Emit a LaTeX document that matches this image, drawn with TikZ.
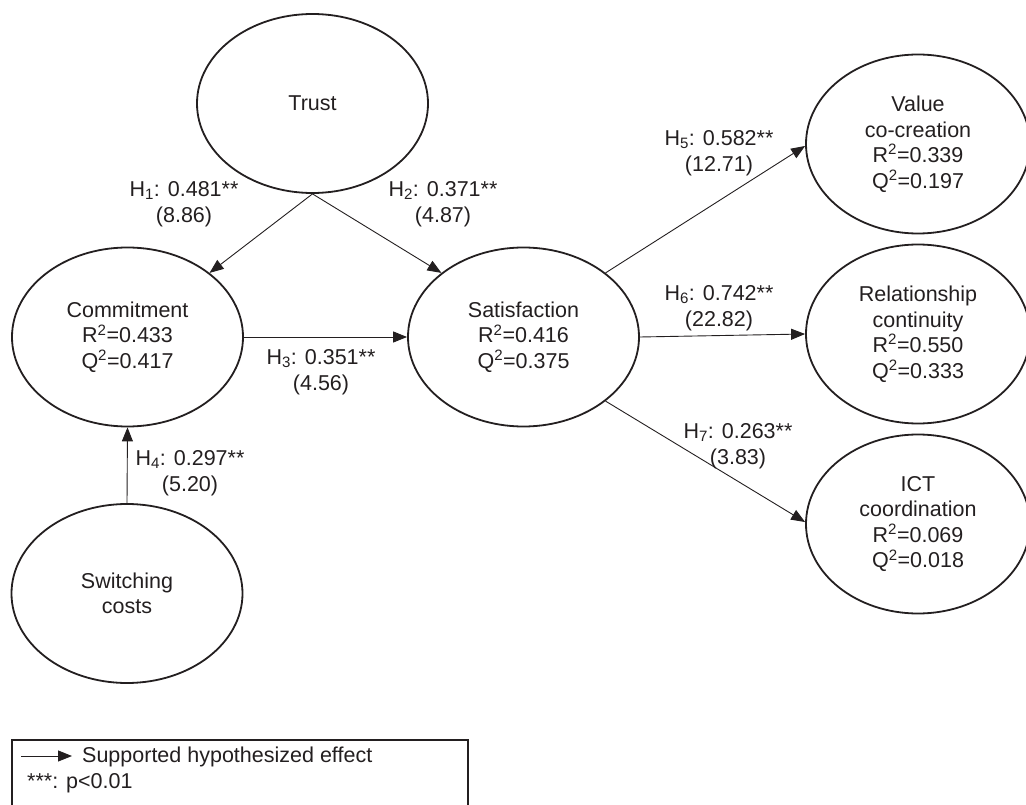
\documentclass[tikz,border=0pt]{standalone}
\usepackage{fontspec}
\setmainfont{Liberation Sans}
\usetikzlibrary{shapes.geometric,arrows.meta}
\definecolor{ink}{RGB}{35,31,32}
\begin{document}
\begin{tikzpicture}[x=1pt,y=-1pt,
  construct/.style={ellipse, draw=ink, line width=1.8pt, minimum width=231pt, minimum height=179pt, inner sep=0pt, align=center, font=\fontsize{21.5}{25.5}\selectfont, text=ink},
  construct r/.style={construct, minimum width=224pt},
  link/.style={draw=ink, line width=0.9pt, -{Triangle[length=14pt,width=11pt]}},
  lbl/.style={align=center, font=\fontsize{21.5}{25.5}\selectfont, text=ink, inner sep=0pt}]
\useasboundingbox (0,0) rectangle (1026,805);
\clip (0,0) rectangle (1026,805);

\node[construct] (trust) at (312.5,103.5) {Trust};
\node[construct] (comm) at (127.5,337) {Commitment\\R\textsuperscript{2}=0.433\\Q\textsuperscript{2}=0.417};
\node[construct] (sat) at (523.5,337) {Satisfaction\\R\textsuperscript{2}=0.416\\Q\textsuperscript{2}=0.375};
\node[construct] (sw) at (127,593.5) {Switching\\costs};
\node[construct r] (val) at (918,144) {Value\\co-creation\\R\textsuperscript{2}=0.339\\Q\textsuperscript{2}=0.197};
\node[construct r] (rel) at (918,334) {Relationship\\continuity\\R\textsuperscript{2}=0.550\\Q\textsuperscript{2}=0.333};
\node[construct r] (ict) at (918,524) {ICT\\coordination\\R\textsuperscript{2}=0.069\\Q\textsuperscript{2}=0.018};

\draw[link] (trust.south) -- (comm.38);
\draw[link] (trust.south) -- (sat.142);
\draw[link] (comm.east) -- (sat.west);
\draw[link] (sw.north) -- (comm.south);
\draw[link] (sat.38) -- (val.181);
\draw[link] (sat.east) -- (rel.west);
\draw[link] (sat.-38) -- (ict.179);

\node[lbl] (h1) at (184,204) {H\textsubscript{1}: 0.481**\\(8.86)};
\node[lbl] (h2) at (443,204) {H\textsubscript{2}: 0.371**\\(4.87)};
\node[lbl] (h3) at (321,372) {H\textsubscript{3}: 0.351**\\(4.56)};
\node[lbl] (h4) at (190,473) {H\textsubscript{4}: 0.297**\\(5.20)};
\node[lbl] (h5) at (719,153) {H\textsubscript{5}: 0.582**\\(12.71)};
\node[lbl] (h6) at (719,308) {H\textsubscript{6}: 0.742**\\(22.82)};
\node[lbl] (h7) at (738,446) {H\textsubscript{7}: 0.263**\\(3.83)};

\draw[ink, line width=1.2pt] (12,830) -- (12,740) -- (468,740) -- (468,830);
\coordinate (la) at (21,756);
\coordinate (lb) at (72,756);
\draw[link] (la) -- (lb);
\node[lbl, anchor=west] (leg1) at (82,757) {Supported hypothesized effect};
\node[lbl, anchor=west] (leg2) at (27,783) {***: p<0.01};
\end{tikzpicture}
\end{document}
